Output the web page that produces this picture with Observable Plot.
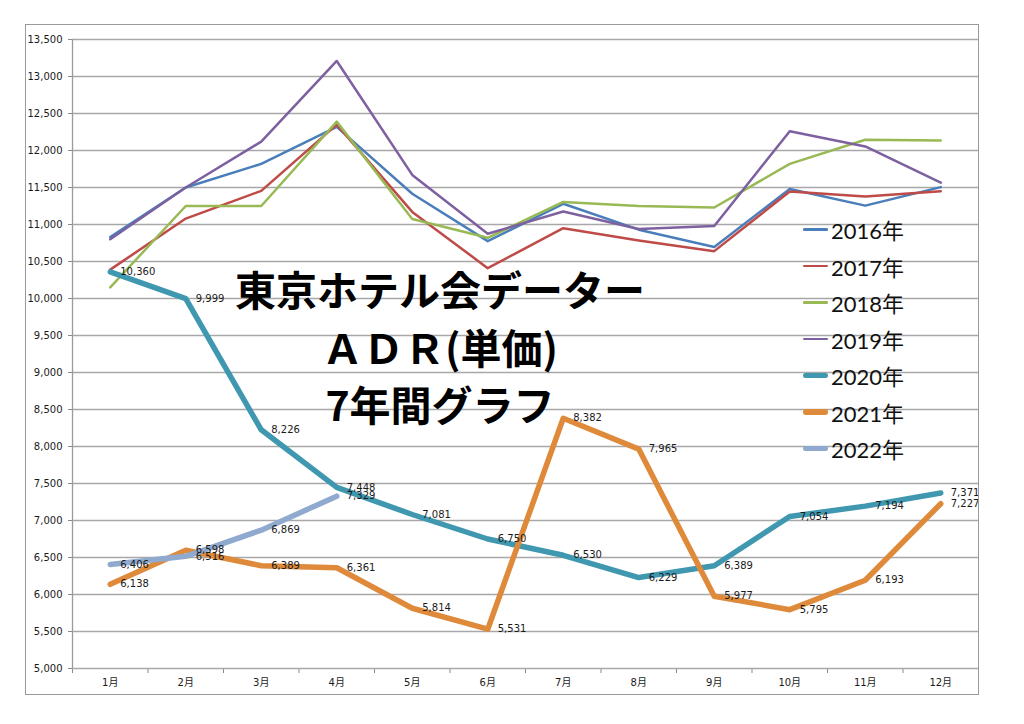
<!DOCTYPE html>
<html>
<head>
<meta charset="utf-8">
<script src="https://cdn.jsdelivr.net/npm/d3@7"></script>
<script src="https://cdn.jsdelivr.net/npm/@observablehq/plot@0.6"></script>
<style>
  html, body { margin: 0; padding: 0; background: #fff; overflow: hidden; }
  #wrap { position: relative; width: 1024px; height: 724px; }
  #chart svg { display: block; }
  #chart svg text { fill: #1a1a1a; }
  #frame { position: absolute; left: 25px; top: 24px; width: 952px; height: 669px;
           border: 1.5px solid #9a9a9a; pointer-events: none; }
  #title { position: absolute; left: 0; width: 880px; top: 260px; text-align: center;
           font-family: "Noto Sans CJK JP", sans-serif; font-weight: bold; font-size: 41px;
           line-height: 57.5px; color: #000; pointer-events: none; }
  #legend { position: absolute; left: 803px; top: 211px; font-family: "Lato", "Noto Sans CJK JP", sans-serif;
            font-size: 22px; color: #111; }
  .row { display: flex; align-items: center; height: 36.5px; }
  .sw { width: 25px; margin-right: 3px; }
</style>
</head>
<body>
<div id="wrap">
  <div id="chart"></div>
  <div id="title">東京ホテル会データー<br>ＡＤＲ(単価)<br>7年間グラフ</div>
  <div id="legend"></div>
  <div id="frame"></div>
</div>
<script>
const months = ["1月","2月","3月","4月","5月","6月","7月","8月","9月","10月","11月","12月"];
const yTicks = [5000,5500,6000,6500,7000,7500,8000,8500,9000,9500,10000,10500,11000,11500,12000,12500,13000,13500];

const years = ["2016年","2017年","2018年","2019年","2020年","2021年","2022年"];
const v2016 = [10830,11500,11820,12320,11415,10775,11280,10930,10695,11480,11255,11505];
const v2017 = [10390,11080,11455,12350,11170,10410,10950,10785,10640,11445,11380,11450];
const v2018 = [10150,11250,11250,12390,11075,10820,11305,11250,11230,11820,12145,12135];
const v2019 = [10800,11500,12120,13210,11670,10875,11175,10940,10980,12260,12055,11565];
const v2020 = [10360,9999,8226,7448,7081,6750,6530,6229,6389,7054,7194,7371];
const v2021 = [6138,6598,6389,6361,5814,5531,8382,7965,5977,5795,6193,7227];
const v2022 = [6406,6516,6869,7329];

const colors = ["#4A7EBB","#BE4B48","#98B954","#7D60A0","#3F98B0","#DE8A3A","#8FA9CF"];
const widths = [2.5,2.5,2.5,2.5,5.5,5.5,5.5];
const labeled = [false,false,false,false,true,true,true];
const values = [v2016,v2017,v2018,v2019,v2020,v2021,v2022];

const series = years.map((y, i) => ({
  year: y, color: colors[i], width: widths[i], labeled: labeled[i],
  rows: values[i].map((v, j) => ({year: y, m: j + 1, month: months[j], v}))
}));

const xDomain = [0.5, months.length + 0.5];
const xBounds = d3.range(xDomain[0], xDomain[1] + 0.01, 1);
const fmt = d3.format(",");

const marks = [
  Plot.ruleY(yTicks, {stroke: "#a8a8a8", strokeWidth: 1.3}),
  Plot.ruleX([xDomain[0]], {stroke: "#9a9a9a", strokeWidth: 1.3}),
  Plot.text(months, {x: (d, i) => i + 1, frameAnchor: "bottom", dy: 17, text: d => d, fontSize: 10})
];
for (const s of series) {
  marks.push(Plot.line(s.rows, {x: "m", y: "v", stroke: s.color, strokeWidth: s.width,
    strokeLinecap: "round", strokeLinejoin: "round"}));
}
for (const s of series) {
  if (!s.labeled) continue;
  marks.push(Plot.text(s.rows, {x: "m", y: "v", text: d => fmt(d.v), dx: 10, textAnchor: "start",
    fontSize: 10, fill: "#000"}));
}

const chart = Plot.plot({
  width: 1024, height: 724,
  marginLeft: 72, marginRight: 46, marginTop: 39, marginBottom: 56,
  style: {fontFamily: "'DejaVu Sans', 'Noto Sans CJK JP', sans-serif", fontSize: "10px", color: "#8a8a8a", background: "transparent"},
  x: {domain: xDomain, ticks: xBounds, tickFormat: () => "", tickSize: 5, label: null},
  y: {domain: [5000, 13500], ticks: yTicks, tickFormat: fmt, tickSize: 4, tickPadding: 6, label: null},
  marks
});
document.getElementById("chart").appendChild(chart);

const legend = document.getElementById("legend");
for (const s of series) {
  const row = document.createElement("div");
  row.className = "row";
  const sw = document.createElement("span");
  sw.className = "sw";
  sw.style.height = s.width + "px";
  sw.style.background = s.color;
  sw.style.borderRadius = (s.width / 2) + "px";
  const t = document.createElement("span");
  t.textContent = s.year;
  row.appendChild(sw); row.appendChild(t);
  legend.appendChild(row);
}
</script>
</body>
</html>
